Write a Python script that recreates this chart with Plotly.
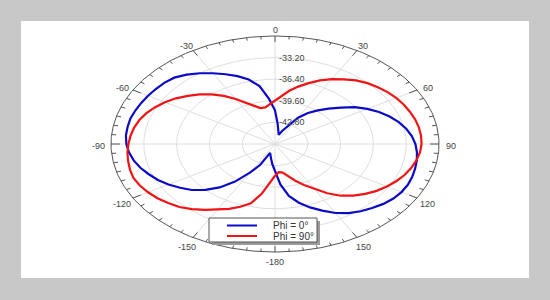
import numpy as np
import plotly.graph_objects as go

# ---------------- data ----------------
theta_deg = list(range(-180, 181, 5))

phi0_db = [
    -42.0, -43.0, -43.8, -44.3, -44.6, -42.6, -41.1, -39.2, -37.6, -36.4,   # -180..-135
    -35.4, -34.7, -34.0, -33.4, -32.9, -32.4, -32.0, -31.7, -31.5, -31.4,   # -130..-85
    -31.4, -31.4, -31.5, -31.6, -31.7, -31.8, -31.9, -32.1, -32.6, -33.2,   # -80..-35
    -33.9, -34.6, -35.3, -36.1, -37.3, -39.3, -41.0, -43.0, -44.0, -44.6,   # -30..15
    -43.9, -43.2, -41.5, -40.4, -39.5, -38.6, -37.6, -36.5, -35.6, -34.8,   # 20..65
    -34.1, -33.5, -33.0, -32.6, -32.3, -32.1, -31.95, -31.85, -31.75, -31.7, # 70..115
    -31.75, -31.9, -32.2, -32.6, -33.0, -33.5, -34.2, -35.1, -36.0, -37.0,  # 120..165
    -38.2, -40.0, -42.0,                                                    # 170..180
]

phi90_db = [
    -41.3, -40.2, -38.5, -36.9, -36.1, -35.4, -34.8, -34.1, -33.4, -32.8,   # -180..-135
    -32.4, -32.0, -31.7, -31.45, -31.3, -31.35, -31.45, -31.55, -31.7, -31.85, # -130..-85
    -32.05, -32.3, -32.65, -33.1, -33.6, -34.2, -34.9, -35.6, -36.4, -37.3, # -80..-35
    -38.3, -39.2, -40.0, -40.5, -40.5, -40.1, -39.5, -38.8, -38.0, -37.2,   # -30..15
    -36.4, -35.6, -34.9, -34.3, -33.7, -33.25, -32.9, -32.6, -32.35, -32.15, # 20..65
    -32.0, -31.85, -31.75, -31.7, -31.7, -31.8, -32.0, -32.25, -32.55, -32.95, # 70..115
    -33.4, -33.9, -34.5, -35.2, -36.0, -37.1, -38.3, -39.3, -40.2, -41.0,   # 120..165
    -41.7, -41.8, -41.3,                                                    # 170..180
]

series_names = ["Phi = 0°", "Phi = 90°"]
series_colors = ["#0a0ac8", "#f01414"]

radial_ticks = [-42.80, -39.60, -36.40, -33.20]
radial_labels = ["-42.80", "-39.60", "-36.40", "-33.20"]
angle_ticks = [0, 30, 60, 90, 120, 150, -180, -150, -120, -90, -60, -30]
angle_labels = ["0", "30", "60", "90", "120", "150", "-180", "-150", "-120", "-90", "-60", "-30"]

R_MIN, R_MAX = -46.0, -30.0

# ---------------- geometry helpers ----------------
W, H = 550, 300
CXP, CYP = 275.0, 144.0   # pixel centre of the polar plot
RXP, RYP = 164.0, 108.0   # pixel radii of the (squashed) outer circle


def to_xy(theta_list, r_list):
    th = np.radians(np.asarray(theta_list, dtype=float))
    rho = (np.asarray(r_list, dtype=float) - R_MIN) / (R_MAX - R_MIN)
    return rho * np.sin(th), rho * np.cos(th)


def px(x):
    return x / W


def py(y):
    return 1 - y / H


fig = go.Figure()

# grid circles
full = np.linspace(0, 2 * np.pi, 361)
gx, gy = [], []
for rt in radial_ticks:
    rho = (rt - R_MIN) / (R_MAX - R_MIN)
    gx += list(rho * np.sin(full)) + [None]
    gy += list(rho * np.cos(full)) + [None]
# spokes every 30 deg
for a in range(0, 360, 30):
    t = np.radians(a)
    gx += [0, np.sin(t), None]
    gy += [0, np.cos(t), None]
fig.add_trace(go.Scatter(x=gx, y=gy, mode="lines", line=dict(color="#dedede", width=1),
                         hoverinfo="skip", showlegend=False))

# outer boundary + ticks
ox = list(np.sin(full))
oy = list(np.cos(full))
tx, ty = [], []
for a in range(0, 360, 5):
    t = np.radians(a)
    inner = 0.945 if a % 30 == 0 else 0.972
    tx += [np.sin(t), inner * np.sin(t), None]
    ty += [np.cos(t), inner * np.cos(t), None]
fig.add_trace(go.Scatter(x=ox + [None] + tx, y=oy + [None] + ty, mode="lines",
                         line=dict(color="#555555", width=1), hoverinfo="skip", showlegend=False))

# data series
for name, col, vals in zip(series_names, series_colors, [phi0_db, phi90_db]):
    x, y = to_xy(theta_deg, vals)
    fig.add_trace(go.Scatter(x=x, y=y, mode="lines", name=name,
                             line=dict(color=col, width=2.2),
                             showlegend=False))

annotations = []
# radial labels
for rt, lab in zip(radial_ticks, radial_labels):
    rho = (rt - R_MIN) / (R_MAX - R_MIN)
    annotations.append(dict(x=0.012, y=rho, xref="x", yref="y", text=lab, showarrow=False,
                            xanchor="left", yanchor="middle",
                            font=dict(family="Liberation Sans, Arial", size=9, color="#444444")))
# angular labels
for a, lab in zip(angle_ticks, angle_labels):
    t = np.radians(a)
    annotations.append(dict(x=1.075 * np.sin(t), y=1.075 * np.cos(t) - 0.02, xref="x", yref="y",
                            text=lab, showarrow=False, xanchor="center", yanchor="middle",
                            font=dict(family="Liberation Sans, Arial", size=9, color="#444444")))

# custom legend
shapes = [
    dict(type="rect", xref="paper", yref="paper", x0=px(21), x1=px(529), y0=py(278), y1=py(21),
         fillcolor="white", line=dict(width=0), layer="below"),
    dict(type="rect", xref="paper", yref="paper", x0=px(212), x1=px(320), y0=py(245), y1=py(221),
         fillcolor="#9a9a9a", line=dict(width=0), layer="above"),
    dict(type="rect", xref="paper", yref="paper", x0=px(209), x1=px(317), y0=py(242), y1=py(218),
         fillcolor="white", line=dict(color="#555555", width=1), layer="above"),
]
for i, (name, col) in enumerate(zip(series_names, series_colors)):
    yy = 225.5 + i * 10.5
    shapes.append(dict(type="line", xref="paper", yref="paper", x0=px(227), x1=px(257),
                       y0=py(yy), y1=py(yy), line=dict(color=col, width=2), layer="above"))
    annotations.append(dict(x=px(271), y=py(yy), xref="paper", yref="paper", text=name,
                            showarrow=False, xanchor="left", yanchor="middle",
                            font=dict(family="Liberation Sans, Arial", size=10, color="#333333")))

fig.update_layout(
    width=W, height=H,
    margin=dict(l=0, r=0, t=0, b=0),
    paper_bgcolor="#c8c8c8", plot_bgcolor="#c8c8c8",
    xaxis=dict(range=[-CXP / RXP, (W - CXP) / RXP], visible=False, fixedrange=True),
    yaxis=dict(range=[-(H - CYP) / RYP, CYP / RYP], visible=False, fixedrange=True),
    shapes=shapes, annotations=annotations, showlegend=False,
)

fig.write_html("out.html", config={"displayModeBar": False})
